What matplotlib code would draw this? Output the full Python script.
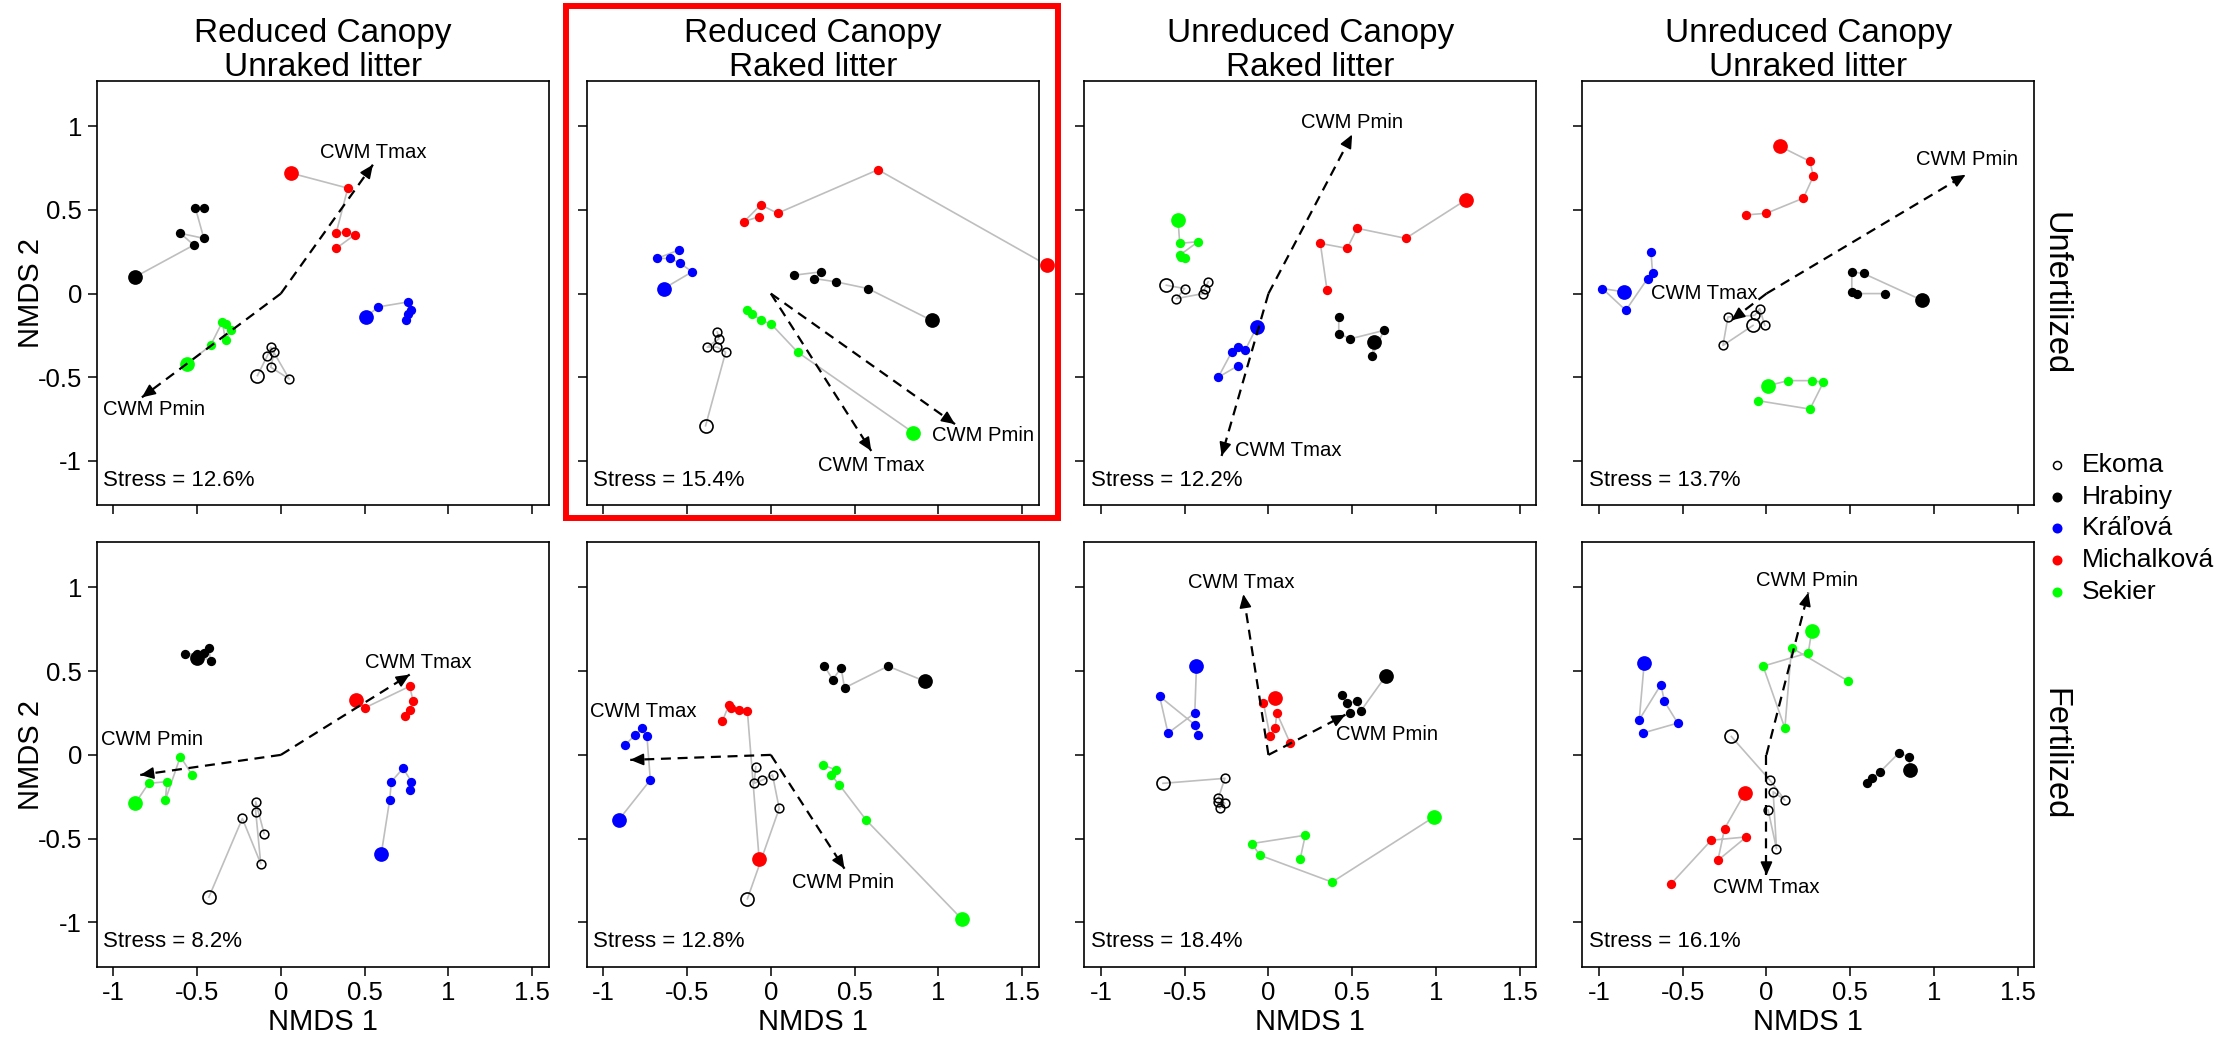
import matplotlib
matplotlib.use("Agg")
import matplotlib.pyplot as plt
from matplotlib.lines import Line2D
from matplotlib.patches import Rectangle
import numpy as np

plt.rcParams['font.family'] = ['Liberation Sans', 'DejaVu Sans']

# sites (first point of each site = large symbol)
sites = ['Ekoma', 'Hrabiny', 'Kráľová', 'Michalková', 'Sekier']
site_colors = ['black', 'black', '#0000FF', '#FF0000', '#00FF00']

col_titles = [('Reduced Canopy', 'Unraked litter'), ('Reduced Canopy', 'Raked litter'),
              ('Unreduced Canopy', 'Raked litter'), ('Unreduced Canopy', 'Unraked litter')]
row_titles = ['Unfertilized', 'Fertilized']
stress = [12.6, 15.4, 12.2, 13.7, 8.2, 12.8, 18.4, 16.1]

# NMDS scores per panel: rows = sites (Ekoma, Hrabiny, Kralova, Michalkova, Sekier)
x_u1 = [[-0.14, -0.08, -0.06, 0.05, -0.06, -0.04],
        [-0.87, -0.52, -0.60, -0.46, -0.51, -0.46],
        [0.51, 0.58, 0.76, 0.78, 0.75, 0.76],
        [0.06, 0.40, 0.33, 0.39, 0.44, 0.33],
        [-0.56, -0.42, -0.35, -0.33, -0.30, -0.33]]
y_u1 = [[-0.49, -0.37, -0.32, -0.51, -0.44, -0.35],
        [0.10, 0.29, 0.36, 0.33, 0.51, 0.51],
        [-0.14, -0.08, -0.05, -0.10, -0.16, -0.12],
        [0.72, 0.63, 0.36, 0.37, 0.35, 0.27],
        [-0.42, -0.31, -0.17, -0.28, -0.22, -0.18]]

x_u2 = [[-0.39, -0.27, -0.32, -0.38, -0.31, -0.32],
        [0.96, 0.58, 0.39, 0.26, 0.30, 0.14],
        [-0.64, -0.47, -0.54, -0.60, -0.68, -0.55],
        [1.65, 0.64, 0.04, -0.06, -0.16, -0.07],
        [0.85, 0.16, 0.00, -0.06, -0.11, -0.14]]
y_u2 = [[-0.79, -0.35, -0.32, -0.32, -0.27, -0.23],
        [-0.16, 0.03, 0.07, 0.09, 0.13, 0.11],
        [0.03, 0.13, 0.18, 0.21, 0.21, 0.26],
        [0.17, 0.74, 0.48, 0.53, 0.43, 0.46],
        [-0.83, -0.35, -0.18, -0.16, -0.12, -0.10]]

x_u3 = [[-0.61, -0.50, -0.55, -0.39, -0.38, -0.36],
        [0.63, 0.62, 0.69, 0.49, 0.42, 0.42],
        [-0.07, -0.14, -0.18, -0.22, -0.30, -0.18],
        [1.18, 0.82, 0.53, 0.47, 0.31, 0.35],
        [-0.54, -0.53, -0.42, -0.53, -0.50, -0.52]]
y_u3 = [[0.05, 0.03, -0.03, 0.00, 0.03, 0.07],
        [-0.29, -0.37, -0.22, -0.27, -0.24, -0.14],
        [-0.20, -0.34, -0.32, -0.35, -0.50, -0.43],
        [0.56, 0.33, 0.39, 0.27, 0.30, 0.02],
        [0.44, 0.30, 0.31, 0.23, 0.21, 0.22]]

x_u4 = [[-0.08, -0.26, -0.23, -0.07, -0.04, -0.01],
        [0.93, 0.58, 0.51, 0.51, 0.54, 0.71],
        [-0.85, -0.98, -0.84, -0.71, -0.68, -0.69],
        [0.08, 0.26, 0.28, 0.22, 0.00, -0.12],
        [0.01, 0.13, 0.27, 0.34, 0.26, -0.05]]
y_u4 = [[-0.19, -0.31, -0.14, -0.13, -0.09, -0.19],
        [-0.04, 0.12, 0.13, 0.01, 0.00, 0.00],
        [0.01, 0.03, -0.10, 0.09, 0.12, 0.25],
        [0.88, 0.79, 0.70, 0.57, 0.48, 0.47],
        [-0.55, -0.52, -0.52, -0.53, -0.69, -0.64]]

x_f1 = [[-0.43, -0.23, -0.12, -0.15, -0.15, -0.10],
        [-0.50, -0.57, -0.46, -0.43, -0.42, -0.50],
        [0.60, 0.65, 0.66, 0.73, 0.78, 0.77],
        [0.45, 0.50, 0.77, 0.79, 0.77, 0.74],
        [-0.87, -0.79, -0.68, -0.69, -0.60, -0.53]]
y_f1 = [[-0.85, -0.38, -0.65, -0.34, -0.28, -0.47],
        [0.58, 0.60, 0.61, 0.64, 0.56, 0.60],
        [-0.59, -0.27, -0.16, -0.08, -0.16, -0.21],
        [0.33, 0.28, 0.41, 0.32, 0.27, 0.23],
        [-0.29, -0.17, -0.16, -0.27, -0.01, -0.12]]

x_f2 = [[-0.14, 0.05, 0.01, -0.05, -0.10, -0.09],
        [0.92, 0.70, 0.44, 0.42, 0.37, 0.32],
        [-0.91, -0.72, -0.74, -0.77, -0.81, -0.87],
        [-0.07, -0.14, -0.19, -0.24, -0.25, -0.29],
        [1.14, 0.57, 0.41, 0.36, 0.39, 0.31]]
y_f2 = [[-0.86, -0.32, -0.12, -0.15, -0.17, -0.07],
        [0.44, 0.53, 0.40, 0.52, 0.45, 0.53],
        [-0.39, -0.15, 0.11, 0.16, 0.12, 0.06],
        [-0.62, 0.26, 0.27, 0.28, 0.30, 0.20],
        [-0.98, -0.39, -0.18, -0.12, -0.09, -0.06]]

x_f3 = [[-0.63, -0.26, -0.30, -0.26, -0.29, -0.30],
        [0.70, 0.55, 0.53, 0.47, 0.49, 0.44],
        [-0.43, -0.44, -0.60, -0.65, -0.44, -0.42],
        [0.04, -0.03, 0.01, 0.04, 0.05, 0.13],
        [0.99, 0.38, -0.05, -0.10, 0.22, 0.19]]
y_f3 = [[-0.17, -0.14, -0.26, -0.29, -0.32, -0.28],
        [0.47, 0.26, 0.32, 0.31, 0.25, 0.36],
        [0.53, 0.25, 0.13, 0.35, 0.18, 0.12],
        [0.34, 0.31, 0.11, 0.16, 0.25, 0.07],
        [-0.37, -0.76, -0.60, -0.53, -0.48, -0.62]]

x_f4 = [[-0.21, 0.02, 0.11, 0.04, 0.06, 0.01],
        [0.86, 0.85, 0.79, 0.68, 0.63, 0.60],
        [-0.73, -0.76, -0.63, -0.61, -0.53, -0.74],
        [-0.13, -0.25, -0.29, -0.12, -0.33, -0.57],
        [0.27, 0.25, -0.02, 0.11, 0.15, 0.49]]
y_f4 = [[0.11, -0.15, -0.27, -0.22, -0.56, -0.33],
        [-0.09, -0.01, 0.01, -0.10, -0.14, -0.17],
        [0.55, 0.21, 0.42, 0.32, 0.19, 0.13],
        [-0.23, -0.44, -0.63, -0.49, -0.51, -0.77],
        [0.74, 0.61, 0.53, 0.16, 0.64, 0.44]]

panels_x = [x_u1, x_u2, x_u3, x_u4, x_f1, x_f2, x_f3, x_f4]
panels_y = [y_u1, y_u2, y_u3, y_u4, y_f1, y_f2, y_f3, y_f4]

# envfit vectors (CWM Tmax, CWM Pmin) and their label positions
tmax_x = [0.55, 0.60, -0.28, -0.21, 0.77, -0.84, -0.15, 0.00]
tmax_y = [0.77, -0.94, -0.97, -0.16, 0.48, -0.03, 0.96, -0.72]
pmin_x = [-0.83, 1.10, 0.50, 1.19, -0.84, 0.44, 0.46, 0.25]
pmin_y = [-0.62, -0.78, 0.95, 0.71, -0.12, -0.68, 0.24, 0.97]
tmax_lab_x = [0.55, 0.60, 0.12, -0.37, 0.82, -0.76, -0.16, 0.00]
tmax_lab_y = [0.84, -1.03, -0.94, 0.00, 0.55, 0.26, 1.03, -0.79]
pmin_lab_x = [-0.76, 1.27, 0.50, 1.20, -0.77, 0.43, 0.71, 0.24]
pmin_lab_y = [-0.69, -0.85, 1.02, 0.80, 0.09, -0.76, 0.12, 1.04]

W, H = 2220, 1040
fig = plt.figure(figsize=(W / 100, H / 100), dpi=100)

col_left = [96.7, 586.7, 1084.3, 1582.3]
col_w = 452
row_top = [81, 542.3]
row_h = 424.5


def draw_vector(ax, x, y):
    ax.plot([0, x], [0, y], color='black', lw=1.6, dashes=(4.5, 3), zorder=3)
    L = np.hypot(x, y)
    ax.annotate('', xy=(x, y), xytext=(x - 0.04 * x / L, y - 0.04 * y / L),
                arrowprops=dict(arrowstyle='-|>,head_length=0.45,head_width=0.2',
                                color='black', lw=1.2, mutation_scale=18,
                                shrinkA=0, shrinkB=0), zorder=4)


for p in range(8):
    r, c = divmod(p, 4)
    ax = fig.add_axes([col_left[c] / W, 1 - (row_top[r] + row_h) / H, col_w / W, row_h / H])
    for s in range(5):
        xs = panels_x[p][s]
        ys = panels_y[p][s]
        ax.plot(xs, ys, color='#BEBEBE', lw=1.2, zorder=1)
        if s == 0:
            ax.plot(xs[1:], ys[1:], 'o', ms=6.3, mfc='none', mec='black', mew=1.1, ls='none', zorder=2, clip_on=False)
            ax.plot(xs[:1], ys[:1], 'o', ms=9.4, mfc='none', mec='black', mew=1.2, ls='none', zorder=2, clip_on=False)
        else:
            ax.plot(xs[1:], ys[1:], 'o', ms=6.7, color=site_colors[s], mew=0, ls='none', zorder=2, clip_on=False)
            ax.plot(xs[:1], ys[:1], 'o', ms=10.6, color=site_colors[s], mew=0, ls='none', zorder=2, clip_on=False)

    draw_vector(ax, tmax_x[p], tmax_y[p])
    draw_vector(ax, pmin_x[p], pmin_y[p])
    ax.text(tmax_lab_x[p], tmax_lab_y[p], 'CWM Tmax', ha='center', va='center', fontsize=14.6, zorder=5)
    ax.text(pmin_lab_x[p], pmin_lab_y[p], 'CWM Pmin', ha='center', va='center', fontsize=14.6, zorder=5)
    ax.text(0.015, 0.059, 'Stress = %.1f%%' % stress[p], transform=ax.transAxes,
            ha='left', va='center', fontsize=16)

    ax.set_xlim(-1.1, 1.6)
    ax.set_ylim(-1.266, 1.27)
    ax.set_xticks([-1, -0.5, 0, 0.5, 1, 1.5])
    ax.set_yticks([-1, -0.5, 0, 0.5, 1])
    ax.set_xticklabels(['-1', '-0.5', '0', '0.5', '1', '1.5'])
    ax.set_yticklabels(['-1', '-0.5', '0', '0.5', '1'])
    ax.tick_params(direction='out', length=6.5, width=1.1, pad=4, labelsize=18.5)
    for sp in ax.spines.values():
        sp.set_linewidth(1.2)
    if r == 0:
        ax.tick_params(labelbottom=False)
    if c > 0:
        ax.tick_params(labelleft=False)

# column titles
for c in range(4):
    cx = (col_left[c] + col_w / 2) / W
    fig.text(cx, 1 - 42 / H, col_titles[c][0], ha='center', va='baseline', fontsize=24)
    fig.text(cx, 1 - 76 / H, col_titles[c][1], ha='center', va='baseline', fontsize=24)
    fig.text(cx, 1 - 1022 / H, 'NMDS 1', ha='center', va='center', fontsize=21)

for r in range(2):
    cy = 1 - (row_top[r] + row_h / 2) / H
    fig.text(31 / W, cy, 'NMDS 2', ha='center', va='center', rotation=90, fontsize=21)
    fig.text(2055 / W, cy, row_titles[r], ha='center', va='center', rotation=270, fontsize=23.5)

# legend
for i, name in enumerate(sites):
    ly = 1 - (465 + i * 31.7) / H
    if i == 0:
        m = Line2D([2057 / W], [ly], marker='o', ms=5.8, mfc='none', mec='black', mew=1.1,
                   ls='none', transform=fig.transFigure)
    else:
        m = Line2D([2057 / W], [ly], marker='o', ms=7.2, color=site_colors[i], mew=0,
                   ls='none', transform=fig.transFigure)
    fig.add_artist(m)
    fig.text(2082 / W, ly, name, ha='left', va='center', fontsize=19)

# highlight box around the second panel
fig.add_artist(Rectangle((566 / W, 1 - 518 / H), (1058 - 566) / W, (518 - 6) / H,
                         transform=fig.transFigure, fill=False, ec='#FF0000', lw=4.3))

fig.savefig('out.png', dpi=100)
